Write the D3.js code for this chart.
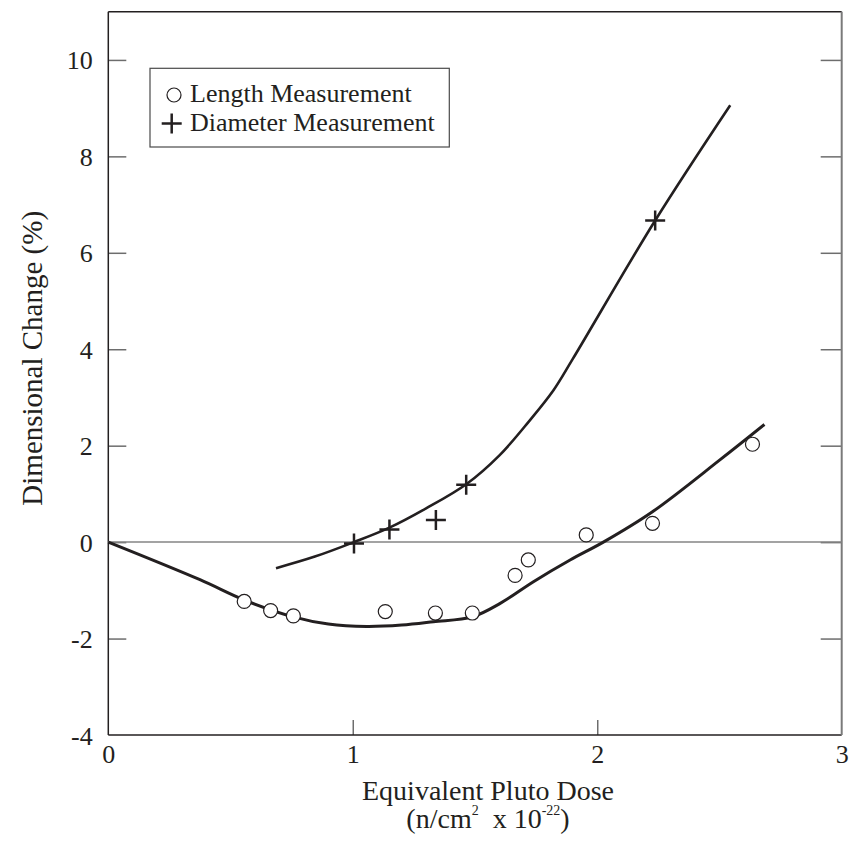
<!DOCTYPE html>
<html>
<head>
<meta charset="utf-8">
<script src="https://cdn.jsdelivr.net/npm/d3@7"></script>
<style>
  html, body { margin: 0; padding: 0; background: #fff; }
  svg { display: block; font-family: "Liberation Serif", "Times New Roman", serif; }
</style>
</head>
<body>
<div id="chart"></div>
<script>
// Measured points
const lengthX = [0.556, 0.664, 0.757, 1.133, 1.338, 1.489, 1.664, 1.718, 1.955, 2.226, 2.635];
const lengthY = [-1.23, -1.42, -1.53, -1.44, -1.47, -1.47, -0.69, -0.37, 0.15, 0.39, 2.03];
const diameterX = [1.005, 1.15, 1.34, 1.464, 2.237];
const diameterY = [-0.03, 0.26, 0.46, 1.19, 6.67];

// Fitted curves
const lengthFitX = [0, 0.375, 0.556, 0.757, 0.9, 1.057, 1.2, 1.33, 1.489, 1.603, 1.739, 1.889, 2.025, 2.226, 2.503, 2.684];
const lengthFitY = [0, -0.78, -1.2, -1.55, -1.7, -1.75, -1.72, -1.65, -1.55, -1.27, -0.82, -0.37, 0, 0.63, 1.71, 2.44];
const diameterFitX = [0.686, 0.845, 1.005, 1.15, 1.3, 1.464, 1.6, 1.72, 1.821, 1.9, 2.237, 2.544];
const diameterFitY = [-0.54, -0.3, 0, 0.3, 0.7, 1.2, 1.8, 2.5, 3.15, 3.8, 6.67, 9.06];

// Axis ticks and labels
const xTicks = [0, 1, 2, 3];
const yTicks = [-4, -2, 0, 2, 4, 6, 8, 10];
const legendLabels = ['Length Measurement', 'Diameter Measurement'];

const width = 851, height = 846;
const margin = { top: 11.7, right: 9.3, bottom: 111, left: 108.3 };
const innerWidth = width - margin.left - margin.right;
const innerHeight = height - margin.top - margin.bottom;
const ink = '#231f20';
const serif = '"Liberation Serif", "Times New Roman", serif';

const svg = d3.select('#chart').append('svg')
    .attr('width', width)
    .attr('height', height);

const g = svg.append('g')
    .attr('transform', `translate(${margin.left},${margin.top})`);

const x = d3.scaleLinear().domain([0, 3]).range([0, innerWidth]);
const y = d3.scaleLinear().domain([-4, 11]).range([innerHeight, 0]);
const fmt = d => String(d);

// Axes
const yAxis = g.append('g')
    .call(d3.axisLeft(y).tickValues(yTicks).tickFormat(fmt).tickSizeInner(-18).tickSizeOuter(0).tickPadding(15.6));
yAxis.select('.domain').remove();
yAxis.selectAll('.tick line').attr('stroke', '#6d6d6d').attr('stroke-width', 1.5)
    .filter(d => d === -4).remove();

const rAxis = g.append('g')
    .attr('transform', `translate(${innerWidth},0)`)
    .call(d3.axisRight(y).tickValues(yTicks).tickSizeInner(-21).tickSizeOuter(0).tickFormat(''));
rAxis.select('.domain').remove();
rAxis.selectAll('.tick line').attr('stroke', '#6d6d6d').attr('stroke-width', 1.5)
    .filter(d => d === -4).remove();

const xAxis = g.append('g')
    .attr('transform', `translate(0,${innerHeight})`)
    .call(d3.axisBottom(x).tickValues(xTicks).tickFormat(fmt).tickSizeInner(-15).tickSizeOuter(0).tickPadding(9.5));
xAxis.select('.domain').remove();
xAxis.selectAll('.tick line').attr('stroke', '#6d6d6d').attr('stroke-width', 1.5)
    .filter(d => d === 0 || d === 3).remove();

g.selectAll('.tick text')
    .attr('font-family', serif)
    .attr('font-size', 26)
    .attr('fill', ink);
yAxis.selectAll('.tick text').attr('dy', 9).attr('y', 0);
xAxis.selectAll('.tick text').attr('dy', 0).attr('y', 28);

// Frame
g.append('line').attr('x1', 0).attr('x2', innerWidth).attr('y1', 0).attr('y2', 0)
    .attr('stroke', ink).attr('stroke-width', 1.5);
g.append('line').attr('x1', 0).attr('x2', innerWidth).attr('y1', innerHeight).attr('y2', innerHeight)
    .attr('stroke', ink).attr('stroke-width', 1.5);
g.append('line').attr('x1', 0).attr('x2', 0).attr('y1', 0).attr('y2', innerHeight)
    .attr('stroke', ink).attr('stroke-width', 1.5);
g.append('line').attr('x1', innerWidth).attr('x2', innerWidth).attr('y1', 0).attr('y2', innerHeight)
    .attr('stroke', '#7a7a7a').attr('stroke-width', 2);

// Zero line
g.append('line')
    .attr('x1', x(0)).attr('x2', x(3))
    .attr('y1', y(0)).attr('y2', y(0))
    .attr('stroke', '#858585').attr('stroke-width', 1.5);

// Fit curves
const line = d3.line()
    .x(d => x(d[0]))
    .y(d => y(d[1]))
    .curve(d3.curveCatmullRom.alpha(0.5));

g.append('path')
    .datum(d3.zip(lengthFitX, lengthFitY))
    .attr('fill', 'none').attr('stroke', ink).attr('stroke-width', 3)
    .attr('d', line);

g.append('path')
    .datum(d3.zip(diameterFitX, diameterFitY))
    .attr('fill', 'none').attr('stroke', ink).attr('stroke-width', 2.6)
    .attr('d', line);

// Markers
g.selectAll('.len')
    .data(d3.zip(lengthX, lengthY))
    .enter().append('circle')
    .attr('class', 'len')
    .attr('cx', d => x(d[0]))
    .attr('cy', d => y(d[1]))
    .attr('r', 7)
    .attr('fill', '#fff')
    .attr('stroke', ink)
    .attr('stroke-width', 1.2);

const plusPath = (s) => `M${-s},0H${s}M0,${-s}V${s}`;

g.selectAll('.dia')
    .data(d3.zip(diameterX, diameterY))
    .enter().append('path')
    .attr('class', 'dia')
    .attr('transform', d => `translate(${x(d[0])},${y(d[1])})`)
    .attr('d', plusPath(10))
    .attr('fill', 'none')
    .attr('stroke', ink)
    .attr('stroke-width', 2.5);

// Legend
const legend = svg.append('g');
legend.append('rect')
    .attr('x', 150).attr('y', 68.3)
    .attr('width', 299.3).attr('height', 78.7)
    .attr('fill', '#fff')
    .attr('stroke', '#4a4a4a')
    .attr('stroke-width', 1.2);
legend.append('circle')
    .attr('cx', 174).attr('cy', 95)
    .attr('r', 7)
    .attr('fill', '#fff').attr('stroke', ink).attr('stroke-width', 1.2);
legend.append('path')
    .attr('transform', 'translate(171.7,123.5)')
    .attr('d', plusPath(10))
    .attr('stroke', ink).attr('stroke-width', 2.5);
legend.selectAll('text.lg')
    .data(legendLabels)
    .enter().append('text')
    .attr('class', 'lg')
    .attr('x', 190)
    .attr('y', (d, i) => 102 + i * 28.5)
    .attr('font-size', 26)
    .attr('fill', ink)
    .text(d => d);

// Axis titles
svg.append('text')
    .attr('x', 488).attr('y', 800)
    .attr('text-anchor', 'middle')
    .attr('font-size', 28)
    .attr('fill', ink)
    .text('Equivalent Pluto Dose');

const unit = svg.append('text')
    .attr('x', 488).attr('y', 828)
    .attr('text-anchor', 'middle')
    .attr('font-size', 28)
    .attr('fill', ink);
unit.append('tspan').text('(n/cm');
unit.append('tspan').attr('font-size', 14).attr('dy', -13).text('2');
unit.append('tspan').attr('dy', 13).text('\u00a0 x 10');
unit.append('tspan').attr('font-size', 14).attr('dy', -13).text('-22');
unit.append('tspan').attr('dy', 13).text(')');

svg.append('text')
    .attr('transform', 'translate(41.7,358.3) rotate(-90)')
    .attr('text-anchor', 'middle')
    .attr('font-size', 29)
    .attr('fill', ink)
    .text('Dimensional Change (%)');
</script>
</body>
</html>
